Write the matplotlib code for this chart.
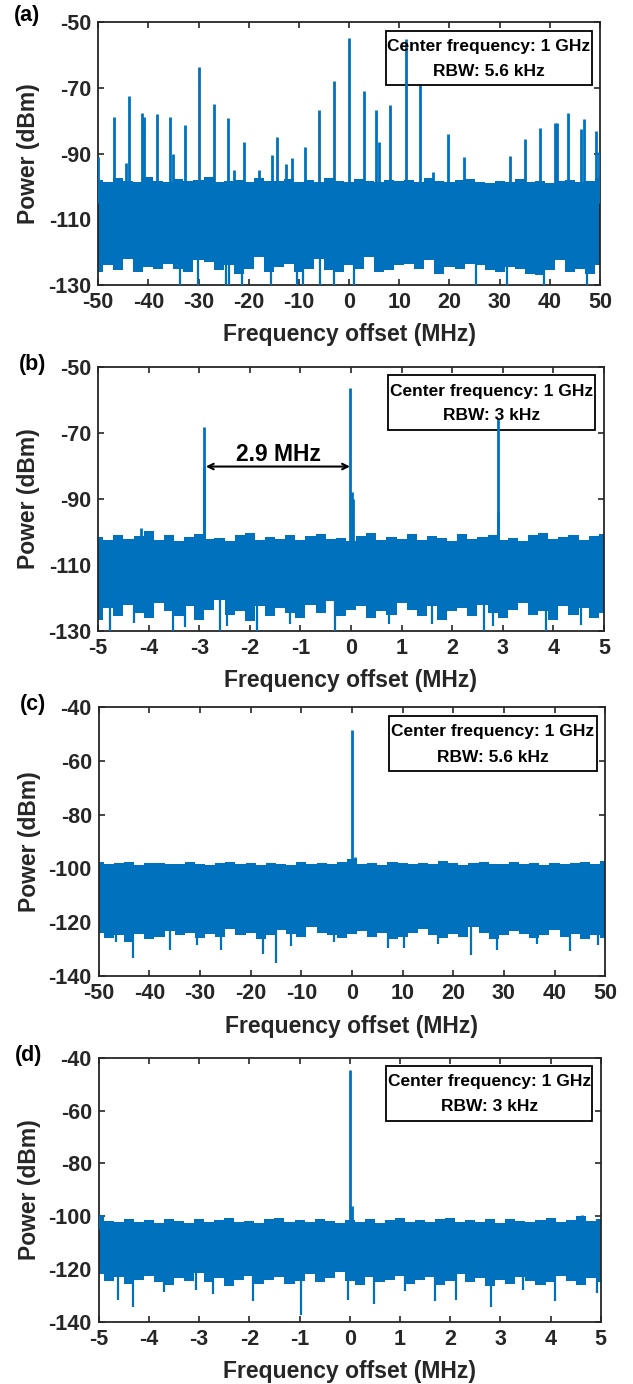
import numpy as np
import matplotlib
matplotlib.use('Agg')
import matplotlib.pyplot as plt
from matplotlib.patches import Rectangle

plt.rcParams['font.family'] = ['Liberation Sans', 'DejaVu Sans']
plt.rcParams['font.weight'] = 'bold'
plt.rcParams['axes.unicode_minus'] = False

blue = '#0072BD'

# ---- panel (a): 100 MHz span, RBW 5.6 kHz ----
a_top = [-98.0, -98.5, -97.5, -98.2, -98.6, -97.0, -98.3, -98.5, -97.8, -98.4,
         -98.0, -97.2, -98.6, -98.3, -97.9, -98.5, -97.5, -98.2, -98.4, -97.6,
         -98.5, -98.0, -98.6, -97.4, -98.2, -98.5, -97.8, -98.3, -98.6, -97.9,
         -98.4, -98.1, -98.5, -97.5, -98.3, -98.6, -98.0, -97.6, -98.5, -98.8,
         -98.2, -98.6, -97.8, -98.5, -98.4, -98.9, -98.3, -98.0, -98.6, -98.2, -97.5]
a_bot = [-126.0, -124.0, -125.5, -122.0, -126.0, -124.5, -125.0, -123.5, -125.0, -126.0,
         -122.5, -123.0, -125.5, -124.0, -126.5, -125.0, -121.5, -126.0, -124.5, -123.5,
         -126.0, -125.0, -122.0, -125.5, -126.0, -124.0, -125.0, -121.5, -126.0, -125.5,
         -124.0, -123.5, -125.0, -122.5, -126.5, -124.5, -125.0, -123.5, -124.0, -125.5,
         -126.0, -124.5, -125.0, -126.5, -127.0, -125.5, -122.5, -126.0, -125.0, -126.5, -124.0]
a_peak_x = [-50.0, -46.9, -44.5, -43.9, -41.2, -40.8, -38.3, -35.6, -35.1, -32.7,
            -30.0, -27.0, -24.1, -22.9, -21.0, -18.0, -15.4, -14.3, -12.5, -11.4,
            -8.8, -6.0, -3.1, -0.1, 2.9, 5.3, 5.9, 8.2, 14.2, 16.8,
            19.8, 22.8, 32.1, 35.1, 38.1, 41.0, 41.4, 43.7, 46.2, 46.7, 49.2, 49.8]
a_peak_y = [-91.0, -79.0, -93.0, -72.5, -77.5, -79.0, -78.0, -79.0, -90.0, -81.4,
            -63.7, -74.8, -79.2, -95.0, -86.4, -95.0, -90.3, -85.0, -93.3, -91.2,
            -88.0, -76.8, -68.0, -54.9, -70.8, -76.8, -86.5, -75.1, -68.6, -95.6,
            -84.0, -91.0, -90.7, -85.7, -82.3, -80.6, -80.6, -77.6, -82.4, -79.4, -83.0, -89.5]
a_front_x = [11.3]   # line that runs over the text box
a_front_y = [-55.2]
a_dip_x = [-33.6, -30.2, -24.5, -24.0, -21.3, -15.5, -10.3, -9.1, -5.7, -3.1,
           0.9, 25.3, 31.4, 38.9, 47.3]
a_dip_y = [-130.0] * 15

# ---- panel (b): 10 MHz span, RBW 3 kHz ----
b_top = [-101.5, -102.5, -100.8, -102.0, -101.2, -99.6, -102.3, -101.0, -102.6, -101.4,
         -100.5, -102.2, -101.7, -102.8, -101.0, -100.2, -102.4, -101.6, -102.0, -100.9,
         -102.5, -101.3, -100.6, -102.1, -101.8, -102.7, -101.2, -100.4, -102.3, -101.5,
         -102.0, -100.7, -102.4, -101.1, -101.9, -102.6, -100.5, -102.2, -101.4, -100.9,
         -102.5, -101.7, -102.8, -101.0, -100.3, -102.2, -101.6, -100.8, -102.4, -101.3, -100.6]
b_bot = [-126.5, -123.0, -125.5, -122.0, -124.5, -126.0, -121.5, -124.0, -125.5, -122.5,
         -126.5, -123.5, -120.5, -125.0, -124.0, -127.0, -122.5, -125.5, -123.0, -124.5,
         -126.0, -122.0, -124.5, -121.0, -125.5, -123.5, -122.5, -126.0, -124.0, -125.0,
         -121.5, -123.5, -125.5, -122.5, -126.5, -124.0, -123.0, -125.5, -122.0, -124.5,
         -126.0, -123.5, -121.5, -125.0, -124.0, -126.5, -122.5, -125.0, -123.0, -126.0, -124.5]
b_peak_x = [-2.90, -2.90, -0.01, 0.02, 0.04, -4.16]
b_peak_y = [-68.1, -80.2, -56.5, -87.8, -90.0, -98.8]
b_front_x = [2.90, 2.90]
b_front_y = [-65.5, -94.0]
b_dip_x = [-4.77, -4.30, -3.52, -3.29, -2.59, -2.45, -1.86, -1.20, -0.32, 0.75,
           1.60, 2.63, 2.81, 3.85, 4.55]
b_dip_y = [-130.0, -127.5, -130.0, -128.8, -130.0, -128.5, -130.0, -128.0, -130.0, -128.0,
           -127.8, -130.0, -128.5, -130.0, -128.3]

# ---- panel (c): 100 MHz span, RBW 5.6 kHz ----
c_top = [-97.5, -98.4, -98.0, -97.8, -98.6, -98.2, -97.9, -98.5, -98.3, -97.6,
         -98.4, -98.7, -98.1, -97.8, -98.5, -98.2, -98.8, -97.9, -98.3, -98.6,
         -97.7, -98.4, -98.1, -98.5, -97.5, -96.5, -98.3, -98.0, -98.6, -97.7,
         -98.2, -98.5, -97.9, -98.4, -97.4, -98.0, -98.6, -98.2, -97.8, -98.5,
         -98.3, -97.6, -98.4, -98.1, -98.7, -97.9, -98.4, -98.2, -97.8, -98.5, -97.3]
c_bot = [-124.0, -126.0, -125.0, -127.5, -124.5, -126.5, -125.5, -123.5, -125.0, -124.0,
         -126.0, -124.5, -125.5, -122.5, -125.0, -124.0, -126.5, -125.0, -123.0, -124.5,
         -125.5, -122.0, -124.0, -125.0, -126.0, -124.5, -123.5, -125.5, -124.0, -126.5,
         -125.5, -124.0, -122.5, -125.0, -126.0, -124.5, -125.5, -122.0, -124.0, -126.5,
         -125.0, -123.5, -124.5, -126.0, -125.0, -123.0, -125.5, -124.5, -126.5, -125.0, -126.0]
c_peak_x = [0.0, 0.6, -0.5]
c_peak_y = [-48.5, -95.8, -96.5]
c_dip_x = [-46.5, -43.2, -35.9, -30.5, -25.9, -17.5, -14.9, -12.0, -3.5, 7.2,
           10.2, 17.0, 23.5, 28.6, 36.5, 43.1, 48.5]
c_dip_y = [-127.5, -133.3, -130.6, -128.5, -130.3, -131.8, -135.1, -129.0, -127.5, -129.6,
           -129.6, -128.3, -132.4, -130.3, -128.2, -130.9, -128.4]

# ---- panel (d): 10 MHz span, RBW 3 kHz ----
d_top = [-99.5, -101.8, -102.3, -101.2, -102.0, -101.6, -102.5, -100.9, -101.9, -102.4,
         -101.0, -102.2, -101.5, -100.6, -102.1, -101.7, -102.6, -101.1, -100.8, -102.3,
         -101.4, -102.0, -100.9, -101.8, -102.4, -101.3, -102.1, -101.0, -102.5, -101.6,
         -100.7, -102.2, -101.4, -102.0, -101.1, -100.6, -102.3, -101.5, -102.0, -101.2,
         -102.6, -100.9, -101.8, -102.2, -101.3, -100.8, -102.1, -101.6, -99.8, -101.9, -101.0]
d_bot = [-122.0, -124.5, -123.0, -125.5, -124.0, -122.5, -125.0, -126.0, -123.5, -124.5,
         -121.5, -125.0, -123.5, -126.5, -124.0, -122.5, -125.5, -124.0, -123.0, -125.5,
         -124.5, -122.0, -125.0, -123.5, -121.0, -124.5, -126.0, -123.0, -125.0, -124.0,
         -122.5, -125.5, -124.0, -123.0, -126.0, -124.5, -122.0, -125.0, -123.5, -126.5,
         -124.0, -125.5, -123.0, -124.5, -126.0, -125.0, -122.5, -124.5, -126.0, -123.5, -125.0]
d_peak_x = [0.0, 0.04, -4.97, 4.62]
d_peak_y = [-44.5, -96.3, -99.5, -99.6]
d_dip_x = [-4.61, -4.32, -3.70, -3.07, -2.73, -1.92, -0.98, -0.04, 0.48, 1.10,
           1.69, 2.11, 2.81, 3.45, 4.08, 4.92]
d_dip_y = [-131.7, -134.2, -128.5, -128.0, -129.4, -131.9, -137.4, -131.7, -133.2, -128.2,
           -131.9, -131.7, -134.5, -128.0, -131.9, -129.0]

rbw = ['5.6 kHz', '3 kHz', '5.6 kHz', '3 kHz']
tags = ['(a)', '(b)', '(c)', '(d)']

fig = plt.figure(figsize=(6.33, 13.84), dpi=100)
rects = [[0.155, 0.794, 0.793, 0.190],
         [0.155, 0.544, 0.799, 0.191],
         [0.156, 0.295, 0.800, 0.194],
         [0.156, 0.0448, 0.793, 0.191]]
tag_pos = [(14, 15), (19, 365), (20, 705), (15, 1055)]


def panel(ax, span, ylim, top, bot, px, py, dx, dy, fx=(), fy=()):
    xt = np.linspace(-span, span, len(top))
    xb = np.linspace(-span, span, len(bot))
    # solid noise floor: upper and lower edges meet in the middle of the band
    ax.fill_between(xt, -112, top, step='mid', color=blue, lw=0, zorder=2)
    ax.fill_between(xb, bot, -110, step='mid', color=blue, lw=0, zorder=2)
    ax.vlines(px, -105, py, color=blue, lw=2.0, zorder=3)
    ax.vlines(dx, -118, dy, color=blue, lw=1.6, zorder=3)
    ax.vlines(fx, -105, fy, color=blue, lw=2.0, zorder=5)
    ax.set_xlim(-span, span)
    ax.set_ylim(*ylim)
    step = span / 5
    ax.set_xticks(np.arange(-span, span + step / 2, step))
    ax.set_xticklabels(['%g' % v for v in np.arange(-span, span + step / 2, step)])
    ax.set_yticks(np.arange(ylim[0], ylim[1] + 1, 20))
    ax.tick_params(direction='in', length=4, width=1.2, top=True, right=True,
                   labelsize=15.5, colors='#262626', pad=5)
    for s in ax.spines.values():
        s.set_linewidth(1.3)
        s.set_color('#262626')
    ax.set_xlabel('Frequency offset (MHz)', fontsize=16.5, fontweight='bold', color='#262626')
    ax.set_ylabel('Power (dBm)', fontsize=16.5, fontweight='bold', color='#262626')
    ax.xaxis.set_label_coords(0.5, -0.145)
    ax.yaxis.set_label_coords(-0.115, 0.5)


axes = [fig.add_axes(r) for r in rects]
panel(axes[0], 50, (-130, -50), a_top, a_bot, a_peak_x, a_peak_y, a_dip_x, a_dip_y, a_front_x, a_front_y)
panel(axes[1], 5, (-130, -50), b_top, b_bot, b_peak_x, b_peak_y, b_dip_x, b_dip_y, b_front_x, b_front_y)
panel(axes[2], 50, (-140, -40), c_top, c_bot, c_peak_x, c_peak_y, c_dip_x, c_dip_y)
panel(axes[3], 5, (-140, -40), d_top, d_bot, d_peak_x, d_peak_y, d_dip_x, d_dip_y)

for ax, r, t, (tx, ty) in zip(axes, rbw, tags, tag_pos):
    ax.add_patch(Rectangle((0.573, 0.762), 0.41, 0.206, transform=ax.transAxes,
                           fc='white', ec='black', lw=1.3, zorder=4))
    ax.text(0.778, 0.908, 'Center frequency: 1 GHz', transform=ax.transAxes,
            ha='center', va='center', fontsize=12.5, fontweight='bold', zorder=6)
    ax.text(0.778, 0.814, 'RBW: ' + r, transform=ax.transAxes,
            ha='center', va='center', fontsize=12.5, fontweight='bold', zorder=6)
    fig.text(tx / 633, 1 - ty / 1384, t, ha='left', va='center',
             fontsize=15.5, fontweight='bold')

axes[1].annotate('', xy=(-0.02, -80.2), xytext=(-2.87, -80.2),
                 arrowprops=dict(arrowstyle='<->', lw=1.5, color='black',
                                 shrinkA=0, shrinkB=0), zorder=6)
axes[1].text(-1.43, -76.7, '2.9 MHz', ha='center', va='center',
             fontsize=16.5, fontweight='bold', zorder=6)

fig.savefig('out.png', dpi=100)
